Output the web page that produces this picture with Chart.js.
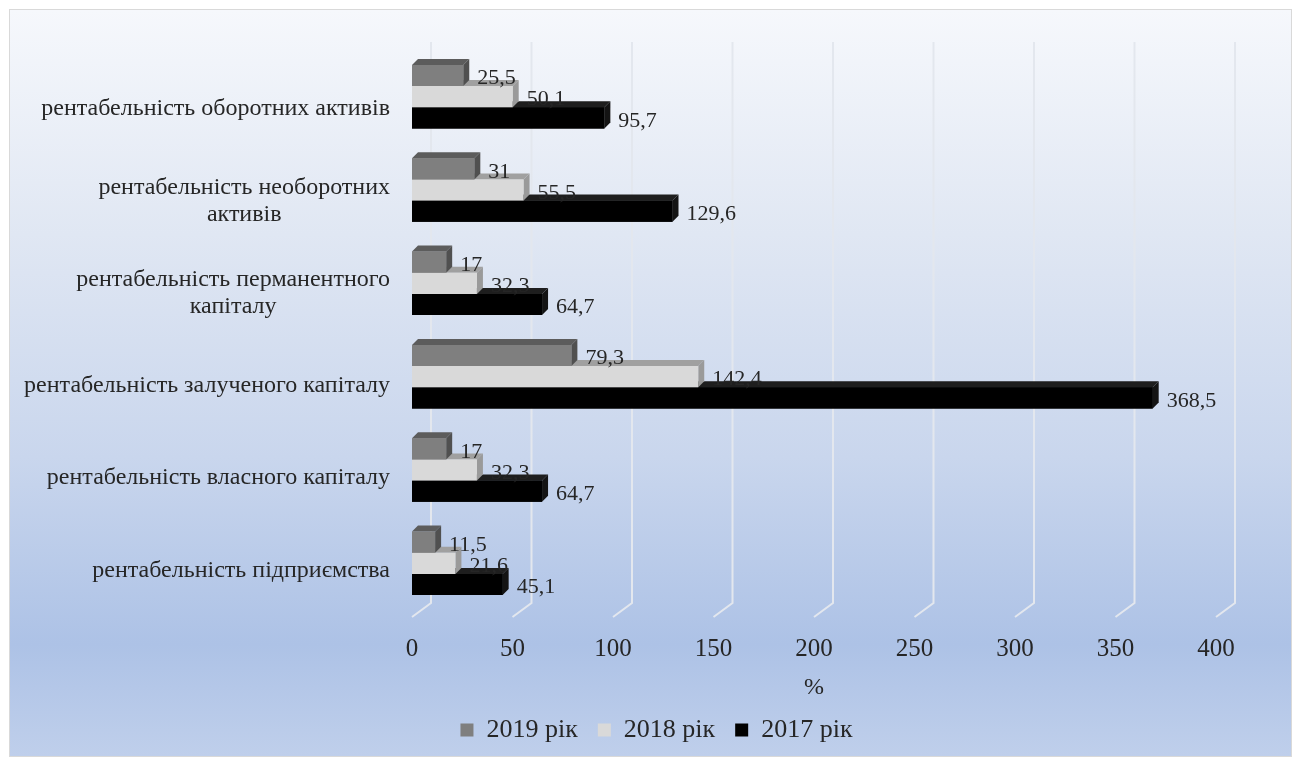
<!DOCTYPE html>
<html>
<head>
<meta charset="utf-8">
<script src="https://cdn.jsdelivr.net/npm/chart.js@4.4.0/dist/chart.umd.min.js"></script>
<style>
html, body { margin: 0; padding: 0; background: #fff; overflow: hidden; }
#wrap {
    position: absolute; left: 9px; top: 9px; width: 1283px; height: 748px;
    box-sizing: border-box; border: 1px solid #d9d9d9;
    background: linear-gradient(to bottom, #f6f8fc 0%, #e0e7f3 30%, #c9d6ed 60%, #adc2e6 85%, #bfcfeb 100%);
}
#chart { position: absolute; left: 10px; top: 10px; }
</style>
</head>
<body>
<div id="wrap"></div>
<canvas id="chart" width="1281" height="780"></canvas>
<script>
// rentabelnist pokaznyky 2017-2019
const categories = [
    ['рентабельність оборотних активів'],
    ['рентабельність необоротних', 'активів'],
    ['рентабельність перманентного', 'капіталу'],
    ['рентабельність залученого капіталу'],
    ['рентабельність власного капіталу'],
    ['рентабельність підприємства']
];
const seriesNames = ['2019 рік', '2018 рік', '2017 рік'];
const values2019 = [25.5, 31, 17, 79.3, 17, 11.5];
const values2018 = [50.1, 55.5, 32.3, 142.4, 32.3, 21.6];
const values2017 = [95.7, 129.6, 64.7, 368.5, 64.7, 45.1];
const xTicks = [0, 50, 100, 150, 200, 250, 300, 350, 400];

const FONT = "'Liberation Serif', 'Times New Roman', serif";
const TEXT = '#262626';
const depth = 6;
const faceColors = [
    {top: '#5c5c5c', side: '#505050'},
    {top: '#a0a0a0', side: '#9a9a9a'},
    {top: '#1e1e1e', side: '#141414'}
];

// 3d-like gridlines with floor bend
const grid3d = {
    id: 'grid3d',
    beforeDatasetsDraw(chart) {
        const {ctx, chartArea, scales: {x}} = chart;
        ctx.save();
        ctx.strokeStyle = '#e3e7ee';
        ctx.lineWidth = 2;
        xTicks.forEach(v => {
            const px = x.getPixelForValue(v);
            ctx.beginPath();
            ctx.moveTo(px + 19, chartArea.top - 8);
            ctx.lineTo(px + 19, chartArea.bottom - 7);
            ctx.lineTo(px, chartArea.bottom + 7);
            ctx.stroke();
        });
        ctx.restore();
    }
};

// top + side faces, then the front again, back series first
const bars3d = {
    id: 'bars3d',
    afterDatasetsDraw(chart) {
        const ctx = chart.ctx;
        ctx.save();
        for (let i = chart.data.datasets.length - 1; i >= 0; i--) {
            const meta = chart.getDatasetMeta(i);
            if (meta.hidden) continue;
            const fc = faceColors[i];
            meta.data.forEach(bar => {
                const {x, y, base, height} = bar.getProps(['x', 'y', 'base', 'height'], true);
                const top = y - height / 2, bottom = y + height / 2;
                ctx.fillStyle = fc.top;
                ctx.beginPath();
                ctx.moveTo(base, top);
                ctx.lineTo(base + depth, top - depth);
                ctx.lineTo(x + depth, top - depth);
                ctx.lineTo(x, top);
                ctx.closePath();
                ctx.fill();
                ctx.fillStyle = fc.side;
                ctx.beginPath();
                ctx.moveTo(x, top);
                ctx.lineTo(x + depth, top - depth);
                ctx.lineTo(x + depth, bottom - depth);
                ctx.lineTo(x, bottom);
                ctx.closePath();
                ctx.fill();
                bar.draw(ctx);
            });
        }
        // value labels
        ctx.font = '22px ' + FONT;
        ctx.fillStyle = TEXT;
        ctx.textAlign = 'left';
        ctx.textBaseline = 'middle';
        chart.data.datasets.forEach((ds, i) => {
            chart.getDatasetMeta(i).data.forEach((bar, j) => {
                const {x, y} = bar.getProps(['x', 'y'], true);
                ctx.fillText(String(ds.data[j]).replace('.', ','), x + 14, y + 3);
            });
        });
        ctx.restore();
    }
};

// category labels: block right aligned, lines centred
const catLabels = {
    id: 'catLabels',
    afterDraw(chart) {
        const {ctx, chartArea, scales: {y}} = chart;
        ctx.save();
        ctx.font = '24px ' + FONT;
        ctx.fillStyle = TEXT;
        ctx.textAlign = 'center';
        ctx.textBaseline = 'middle';
        const right = chartArea.left - 22;
        categories.forEach((lines, i) => {
            const cy = y.getPixelForTick(i) + 12 - i;
            const w = Math.max(...lines.map(l => ctx.measureText(l).width));
            const cx = right - w / 2;
            lines.forEach((l, k) => {
                ctx.fillText(l, cx, cy + (k - (lines.length - 1) / 2) * 27);
            });
        });
        ctx.restore();
    }
};

const ctx = document.getElementById('chart');
const myChart = new Chart(ctx, {
    type: 'bar',
    data: {
        labels: categories,
        datasets: [{
            label: seriesNames[0],
            data: values2019,
            backgroundColor: '#7f7f7f'
        }, {
            label: seriesNames[1],
            data: values2018,
            backgroundColor: '#d9d9d9'
        }, {
            label: seriesNames[2],
            data: values2017,
            backgroundColor: '#000000'
        }]
    },
    options: {
        responsive: false,
        animation: false,
        indexAxis: 'y',
        borderWidth: 0,
        barPercentage: 1,
        categoryPercentage: 0.68,
        layout: {
            padding: {left: 12, right: 0, top: 40, bottom: 37}
        },
        scales: {
            x: {
                min: 0,
                max: 400,
                ticks: {
                    stepSize: 50,
                    padding: 24,
                    color: TEXT,
                    font: {family: FONT, size: 25}
                },
                grid: {display: false, drawTicks: false},
                border: {display: false},
                title: {
                    display: true,
                    text: '%',
                    color: TEXT,
                    font: {family: FONT, size: 24, lineHeight: 0.75},
                    padding: {top: 0, bottom: 0}
                },
                afterFit(scale) { scale.height = 87; }
            },
            y: {
                ticks: {display: false},
                grid: {display: false},
                border: {display: false},
                afterFit(scale) { scale.width = 390; }
            },
            y2: {
                type: 'linear',
                position: 'right',
                display: true,
                ticks: {display: false},
                grid: {display: false},
                border: {display: false},
                afterFit(scale) { scale.width = 75; }
            }
        },
        plugins: {
            legend: {
                position: 'bottom',
                labels: {
                    boxWidth: 13,
                    boxHeight: 13,
                    padding: 20,
                    color: TEXT,
                    font: {family: FONT, size: 26}
                }
            },
            tooltip: {enabled: false}
        }
    },
    plugins: [grid3d, bars3d, catLabels]
});
</script>
</body>
</html>
